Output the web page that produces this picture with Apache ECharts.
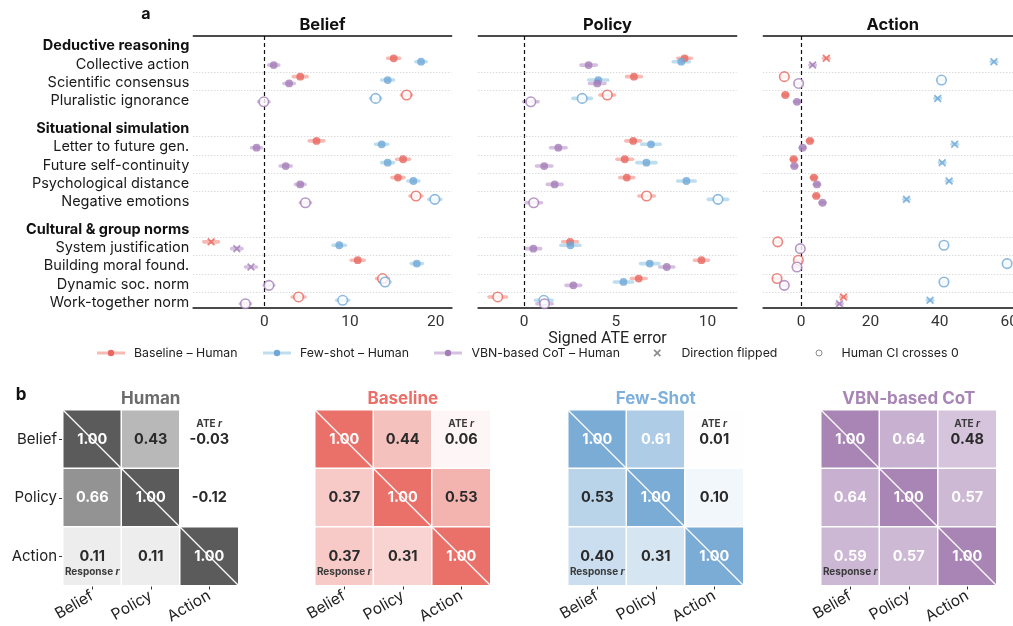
<!DOCTYPE html>
<html><head><meta charset="utf-8">
<script src="https://cdn.jsdelivr.net/npm/echarts@6/dist/echarts.min.js"></script>
<style>html,body{margin:0;padding:0;background:#fff}#c{width:1013px;height:626px}</style>
</head><body><div id="c"></div>
<script>
// ---------- DATA ----------
const rowLabels = ['Collective action','Scientific consensus','Pluralistic ignorance',
  'Letter to future gen.','Future self-continuity','Psychological distance','Negative emotions',
  'System justification','Building moral found.','Dynamic soc. norm','Work-together norm'];
const groupNames = ['Deductive reasoning','Situational simulation','Cultural & group norms'];
const groupSizes = [3,4,4];
const panelNames = ['Belief','Policy','Action'];
const methodNames = ['Baseline – Human','Few-shot – Human','VBN-based CoT – Human'];
const xTickLabels = [[0,10,20],[0,5,10],[0,20,40,60]];

// Belief
const beliefBaseline = [15.1, 4.2, 16.6, 6.1, 16.2, 15.6, 17.7, -6.2, 10.9, 13.8, 4.0];
const beliefFewShot  = [18.3, 14.4, 13.0, 13.7, 14.4, 17.4, 19.9, 8.75, 17.8, 14.1, 9.15];
const beliefVBN      = [1.1, 2.9, -0.05, -0.9, 2.5, 4.2, 4.8, -3.2, -1.55, 0.55, -2.2];
const beliefBaselineCI = [0.7, 0.8, 0.6, 0.85, 0.75, 0.7, 0.7, 0.85, 0.75, 0.7, 0.75];
const beliefFewShotCI  = [0.6, 0.7, 0.6, 0.7, 0.7, 0.65, 0.7, 0.72, 0.65, 0.6, 0.7];
const beliefVBNCI      = [0.6, 0.6, 0.6, 0.6, 0.65, 0.55, 0.6, 0.6, 0.64, 0.55, 0.6];
// f = filled, o = Human CI crosses 0, x = direction flipped
const beliefBaselineMark = ['f','f','o','f','f','f','o','x','f','o','o'];
const beliefFewShotMark  = ['f','f','o','f','f','f','o','f','f','o','o'];
const beliefVBNMark      = ['f','f','o','f','f','f','o','x','x','o','o'];

// Policy
const policyBaseline = [8.75, 5.99, 4.54, 5.95, 5.49, 5.60, 6.68, 2.51, 9.67, 6.25, -1.43];
const policyFewShot  = [8.57, 4.05, 3.17, 6.92, 6.67, 8.85, 10.57, 2.53, 6.85, 5.42, 1.08];
const policyVBN      = [3.52, 3.99, 0.37, 1.87, 1.10, 1.67, 0.53, 0.51, 7.78, 2.69, 1.12];
const policyBaselineCI = [0.37, 0.4, 0.4, 0.4, 0.42, 0.38, 0.42, 0.4, 0.38, 0.4, 0.48];
const policyFewShotCI  = [0.44, 0.52, 0.5, 0.5, 0.52, 0.48, 0.53, 0.52, 0.5, 0.5, 0.45];
const policyVBNCI      = [0.42, 0.42, 0.4, 0.42, 0.42, 0.4, 0.42, 0.4, 0.38, 0.4, 0.42];
const policyBaselineMark = ['f','f','o','f','f','f','o','f','f','f','o'];
const policyFewShotMark  = ['f','f','o','f','f','f','o','f','f','f','o'];
const policyVBNMark      = ['f','f','o','f','f','f','o','f','f','f','o'];

// Action
const actionBaseline = [7.3, -4.8, -4.5, 2.58, -2.1, 3.73, 4.4, -6.7, -0.77, -6.9, 12.25];
const actionFewShot  = [55.6, 40.5, 39.4, 44.3, 40.7, 42.7, 30.4, 41.2, 59.4, 41.2, 37.2];
const actionVBN      = [3.35, -0.67, -1.15, 0.48, -1.9, 4.6, 6.2, -0.2, -1.15, -4.8, 11.1];
const actionBaselineCI = [0.8, 0.8, 0.8, 0.8, 0.8, 0.8, 0.8, 0.8, 0.8, 0.8, 0.8];
const actionFewShotCI  = [0.8, 0.8, 0.8, 0.8, 0.8, 0.8, 0.8, 0.8, 0.8, 0.8, 0.8];
const actionVBNCI      = [0.8, 0.8, 0.8, 0.8, 0.8, 0.8, 0.8, 0.8, 0.8, 0.8, 0.8];
const actionBaselineMark = ['x','o','f','f','f','f','f','o','o','o','x'];
const actionFewShotMark  = ['x','o','x','x','x','x','x','o','o','o','x'];
const actionVBNMark      = ['x','o','f','f','f','f','f','o','o','o','x'];

// Correlation matrices (upper = ATE r, lower = Response r)
const corrVars = ['Belief','Policy','Action'];
const heatNames = ['Human','Baseline','Few-Shot','VBN-based CoT'];
const humanCorr    = [[1.00, 0.43, -0.03],[0.66, 1.00, -0.12],[0.11, 0.11, 1.00]];
const baselineCorr = [[1.00, 0.44, 0.06],[0.37, 1.00, 0.53],[0.37, 0.31, 1.00]];
const fewShotCorr  = [[1.00, 0.61, 0.01],[0.53, 1.00, 0.10],[0.40, 0.31, 1.00]];
const vbnCorr      = [[1.00, 0.64, 0.48],[0.64, 1.00, 0.57],[0.59, 0.57, 1.00]];

// ---------- LAYOUT / STYLE ----------
const FONT = 'Inter';
const NUMFONT = 'Roboto';
const methodColors = ['#E9675F','#6FA7D7','#A47DB7'];
const ciColors = ['#F7BAB5','#BEDEF0','#D5C0E1'];
const heatColors = ['#5B5B5B','#E9716A','#7AACD6','#A985B6'];
const heatTitleColors = ['#6B6B6B','#EA6F68','#7DB0DB','#A985B6'];
const XPTS = [[0,1.6],[1.6,0],[5,3.4],[8.4,0],[10,1.6],[6.6,5],[10,8.4],[8.4,10],[5,6.6],[1.6,10],[0,8.4],[3.4,5]];
const XPATH = 'path://M' + XPTS.map(p => p[0] + ',' + p[1]).join(' L') + ' Z';

const panelValues = [[beliefBaseline, beliefFewShot, beliefVBN],[policyBaseline, policyFewShot, policyVBN],[actionBaseline, actionFewShot, actionVBN]];
const panelCI = [[beliefBaselineCI, beliefFewShotCI, beliefVBNCI],[policyBaselineCI, policyFewShotCI, policyVBNCI],[actionBaselineCI, actionFewShotCI, actionVBNCI]];
const panelMarks = [[beliefBaselineMark, beliefFewShotMark, beliefVBNMark],[policyBaselineMark, policyFewShotMark, policyVBNMark],[actionBaselineMark, actionFewShotMark, actionVBNMark]];
const heatMats = [humanCorr, baselineCorr, fewShotCorr, vbnCorr];

// row positions on the y value axis
const rowPos = [], headerPos = [];
(function(){ let p = 0; groupSizes.forEach((n, g) => { if (g > 0) p += 1.5; headerPos.push(p - 0.91); for (let i = 0; i < n; i++) rowPos.push(p++); }); })();
const labelMap = {};
rowPos.forEach((v, i) => labelMap[v.toFixed(2)] = '{r|' + rowLabels[i] + '}');
headerPos.forEach((v, i) => labelMap[v.toFixed(2)] = '{h|' + groupNames[i] + '}');
const separators = rowPos.slice(1).map(v => v - 0.43);
const methodOffset = [-0.185, 0, 0.185];

const topGrids = [
  {left: 193.3, top: 36, width: 258.4, height: 271.3},
  {left: 478.3, top: 36, width: 258.4, height: 271.3},
  {left: 763.3, top: 36, width: 249.7, height: 271.3}
];
const xRanges = [[-8.28, 21.87],[-2.49, 11.59],[-10.86, 61.1]];
const titleShift = [0, 0, 9.4];
const heatLefts = [63, 315, 568, 821];

const grid = [], xAxis = [], yAxis = [], series = [], title = [];

topGrids.forEach((g, p) => {
  grid.push(Object.assign({containLabel: false, outerBoundsMode: 'none'}, g));
  xAxis.push({
    type: 'value', gridIndex: p, min: xRanges[p][0], max: xRanges[p][1], position: 'bottom',
    axisLine: {show: true, onZero: false, lineStyle: {color: '#4a4a4a', width: 2}},
    axisTick: {show: false}, splitLine: {show: false},
    axisLabel: {customValues: xTickLabels[p], fontFamily: NUMFONT, fontSize: 15.5, color: '#333', margin: 7},
    name: p === 1 ? 'Signed ATE error' : '', nameLocation: 'middle', nameGap: 22,
    nameTextStyle: {fontFamily: NUMFONT, fontSize: 16, color: '#222'}
  });
  xAxis.push({
    type: 'value', gridIndex: p, min: xRanges[p][0], max: xRanges[p][1], position: 'top',
    axisLine: {show: true, onZero: false, lineStyle: {color: '#111', width: 1.5}},
    axisTick: {show: false}, axisLabel: {show: false}, splitLine: {show: false},
    name: panelNames[p], nameLocation: 'middle', nameGap: 2,
    nameTextStyle: {fontFamily: FONT, fontSize: 16.5, fontWeight: 'bold', color: '#111', verticalAlign: 'bottom',
      padding: [0, 0, 0, titleShift[p]]}
  });
  yAxis.push({
    type: 'value', gridIndex: p, min: -1.4, max: 13.38, inverse: true,
    axisLine: {show: false}, axisTick: {show: false}, splitLine: {show: false},
    axisLabel: p === 0 ? {
      show: true, customValues: headerPos.concat(rowPos), margin: 4,
      formatter: v => labelMap[Number(v).toFixed(2)] || '',
      rich: {
        r: {fontFamily: FONT, fontSize: 14.5, color: '#1a1a1a', padding: [5, 0, 0, 0]},
        h: {fontFamily: FONT, fontSize: 14.5, fontWeight: 'bold', color: '#111', padding: [2, 0, 0, 0]}
      }
    } : {show: false}
  });
  const xi = p * 2, yi = p;
  for (let m = 0; m < 3; m++) {
    const vals = panelValues[p][m], cis = panelCI[p][m], marks = panelMarks[p][m];
    const ebar = {
      type: 'custom', xAxisIndex: xi, yAxisIndex: yi, z: 2, silent: true,
      data: vals.map((v, i) => [v, rowPos[i] + methodOffset[m], cis[i]]),
      encode: {x: 0, y: 1},
      renderItem: (params, api) => {
        const x = api.value(0), y = api.value(1), ci = api.value(2);
        const a = api.coord([x - ci, y]), b = api.coord([x + ci, y]);
        return {type: 'line', shape: {x1: a[0], y1: a[1], x2: b[0], y2: b[1]},
          style: {stroke: ciColors[m], lineWidth: 3.6, lineCap: 'round'}};
      }
    };
    if (m === 0) {
      ebar.markLine = {
        silent: true, symbol: 'none', label: {show: false}, animation: false,
        data: [{xAxis: 0, lineStyle: {type: [4, 3], color: '#111', width: 1.2}}]
          .concat(separators.map(v => ({yAxis: v, lineStyle: {type: [1, 2], color: '#cccccc', width: 1}})))
      };
    }
    series.push(ebar);
    series.push({
      type: 'scatter', xAxisIndex: xi, yAxisIndex: yi, z: 6, silent: true,
      data: vals.map((v, i) => {
        const y = rowPos[i] + methodOffset[m], code = marks[i], c = methodColors[m];
        if (code === 'x') return {value: [v, y], symbol: XPATH, symbolSize: 8, itemStyle: {color: c}};
        if (code === 'o') return {value: [v, y], symbol: 'circle', symbolSize: 9.5, itemStyle: {color: '#fff', borderColor: c, borderWidth: 1.6}};
        return {value: [v, y], symbol: 'circle', symbolSize: 7.8, itemStyle: {color: c}};
      })
    });
  }
});

function lerpColor(hex, t) {
  t = Math.max(0, Math.min(1, t));
  const r = parseInt(hex.slice(1, 3), 16), g = parseInt(hex.slice(3, 5), 16), b = parseInt(hex.slice(5, 7), 16);
  const f = (c) => Math.round(255 + (c - 255) * t);
  return 'rgb(' + f(r) + ',' + f(g) + ',' + f(b) + ')';
}

heatMats.forEach((mat, h) => {
  const gi = grid.length;
  grid.push({left: heatLefts[h], top: 410, width: 175.5, height: 175.5, containLabel: false, outerBoundsMode: 'none'});
  xAxis.push({
    type: 'category', gridIndex: gi, data: corrVars, position: 'bottom',
    axisLine: {show: false}, axisTick: {show: true, alignWithLabel: true, length: 4, lineStyle: {color: '#333'}},
    axisLabel: {rotate: 30, fontFamily: FONT, fontSize: 15.5, color: '#222', margin: 9},
    splitLine: {show: false}
  });
  yAxis.push({
    type: 'category', gridIndex: gi, data: corrVars, inverse: true,
    axisLine: {show: false}, axisTick: {show: h === 0, alignWithLabel: true, length: 4, lineStyle: {color: '#333'}},
    axisLabel: {show: h === 0, fontFamily: FONT, fontSize: 15, color: '#222', margin: 6},
    splitLine: {show: false}
  });
  const items = [];
  mat.forEach((row, r) => row.forEach((v, c) => {
    const cls = v > 0.55 ? 'w' : 'd';
    const num = v.toFixed(2);
    let fmt;
    if (r === 0 && c === 2) fmt = '{s|ATE }{si|r}\n{' + cls + '|' + num + '}\n{s| }';
    else if (r === 2 && c === 0) fmt = '{s| }\n{' + cls + '|' + num + '}\n{s|Response }{si|r}';
    else fmt = '{' + cls + '|' + num + '}';
    items.push({value: [c, r, v], itemStyle: {color: lerpColor(heatColors[h], v)}, label: {formatter: fmt}});
  }));
  const xi = xAxis.length - 1, yi = yAxis.length - 1;
  series.push({
    type: 'heatmap', xAxisIndex: xi, yAxisIndex: yi, silent: true, z: 2,
    itemStyle: {borderColor: '#fff', borderWidth: 1.5},
    label: {show: true, rich: {
      d: {fontFamily: FONT, fontSize: 14.5, fontWeight: 'bold', color: '#2a2a2a', lineHeight: 15.5},
      w: {fontFamily: FONT, fontSize: 14.5, fontWeight: 'bold', color: '#ffffff', lineHeight: 15.5},
      s: {fontFamily: FONT, fontSize: 10, fontWeight: 'bold', color: '#3a3a3a', lineHeight: 15.5},
      si: {fontFamily: FONT, fontSize: 10, fontWeight: 'bold', fontStyle: 'italic', color: '#3a3a3a', lineHeight: 15.5}
    }},
    emphasis: {disabled: true},
    data: items
  });
  series.push({
    type: 'custom', xAxisIndex: xi, yAxisIndex: yi, z: 5, silent: true,
    data: [[0, 0]], encode: {x: 0, y: 1},
    renderItem: (params, api) => {
      const p0 = api.coord([0, 0]), p2 = api.coord([2, 2]), s = api.size([1, 1]);
      return {type: 'line', shape: {x1: p0[0] - s[0] / 2, y1: p0[1] - s[1] / 2, x2: p2[0] + s[0] / 2, y2: p2[1] + s[1] / 2},
        style: {stroke: '#fff', lineWidth: 1.3}};
    }
  });
  title.push({text: heatNames[h], left: heatLefts[h] + 87.75, top: 390, textAlign: 'center', padding: 0,
    textStyle: {fontFamily: FONT, fontSize: 17, fontWeight: 'bold', color: heatTitleColors[h]}});
});

title.push({text: 'a', left: 146, top: 6, textAlign: 'center', padding: 0, textStyle: {fontFamily: FONT, fontSize: 16, fontWeight: 'bold', color: '#111'}});
title.push({text: 'b', left: 21, top: 386, textAlign: 'center', padding: 0, textStyle: {fontFamily: FONT, fontSize: 17, fontWeight: 'bold', color: '#111'}});

// legend drawn with graphic elements
const legendY = 353;
const legendItems = [];
const legX = [[97, 125, 134], [263, 291, 300], [434, 462, 471.5]];
legX.forEach((lx, m) => {
  legendItems.push({type: 'line', shape: {x1: lx[0], y1: legendY, x2: lx[1], y2: legendY}, style: {stroke: ciColors[m], lineWidth: 3}});
  legendItems.push({type: 'circle', shape: {cx: (lx[0] + lx[1]) / 2, cy: legendY, r: 3.2}, style: {fill: methodColors[m]}});
  legendItems.push({type: 'text', x: lx[2], y: legendY, style: {text: methodNames[m], fontFamily: FONT, fontSize: 12.3, fill: '#222', verticalAlign: 'middle'}});
});
legendItems.push({type: 'polygon', shape: {points: XPTS.map(p => [653.5 + p[0] * 0.75, legendY - 3.75 + p[1] * 0.75])}, style: {fill: '#8c8c8c'}});
legendItems.push({type: 'text', x: 681.5, y: legendY, style: {text: 'Direction flipped', fontFamily: FONT, fontSize: 12.3, fill: '#222', verticalAlign: 'middle'}});
legendItems.push({type: 'circle', shape: {cx: 819, cy: legendY, r: 3}, style: {fill: '#fff', stroke: '#8c8c8c', lineWidth: 1}});
legendItems.push({type: 'text', x: 841.5, y: legendY, style: {text: 'Human CI crosses 0', fontFamily: FONT, fontSize: 12.3, fill: '#222', verticalAlign: 'middle'}});

const chart = echarts.init(document.getElementById('c'), null, {renderer: 'canvas'});
chart.setOption({
  animation: false,
  backgroundColor: '#fff',
  textStyle: {fontFamily: FONT},
  title, grid, xAxis, yAxis, series,
  graphic: legendItems
});
</script>
</body></html>
